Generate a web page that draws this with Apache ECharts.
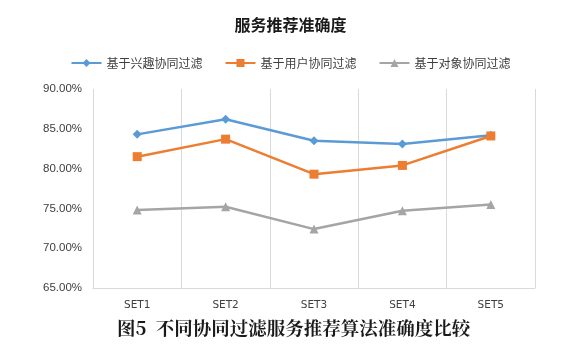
<!DOCTYPE html>
<html><head><meta charset="utf-8">
<script src="https://cdn.jsdelivr.net/npm/echarts@6/dist/echarts.min.js"></script>
<style>html,body{margin:0;padding:0;background:#fff}#c{width:581px;height:360px}</style>
</head><body><div id="c"></div>
<script>
const categories = ['SET1','SET2','SET3','SET4','SET5'];
const seriesNames = ['基于兴趣协同过滤','基于用户协同过滤','基于对象协同过滤'];
const interestCF = [84.3, 86.2, 83.5, 83.1, 84.2];
const userCF = [81.5, 83.7, 79.3, 80.4, 84.1];
const objectCF = [74.8, 75.2, 72.4, 74.7, 75.5];
const yTicks = [65, 70, 75, 80, 85, 90];

const chart = echarts.init(document.getElementById('c'), null, {renderer:'canvas'});
const mk = (name, data, color, symbol, size) => ({
  name, type:'line', data, symbol, symbolSize:size,
  lineStyle:{color, width:2.5}, itemStyle:{color}
});
chart.setOption({
  animation:false,
  title:[
    {text:'服务推荐准确度', left:'center', top:12,
     textStyle:{fontFamily:'Noto Sans CJK SC', fontSize:16, fontWeight:'bold', color:'#1a1a1a'}},
    {text:'图5  不同协同过滤服务推荐算法准确度比较', left:112, top:314,
     textStyle:{fontFamily:'Noto Serif CJK SC, Noto Sans CJK SC', fontSize:18.5, fontWeight:'bold', color:'#1a1a1a'}}
  ],
  legend:{top:52, left:'center', itemGap:22, itemWidth:30, itemHeight:10,
    textStyle:{fontFamily:'Noto Sans CJK SC', fontSize:12, color:'#404040'},
    data:seriesNames},
  grid:{left:93, right:46, top:89, bottom:72},
  xAxis:{type:'category', data:categories, boundaryGap:true,
    axisLine:{lineStyle:{color:'#d9d9d9'}}, axisTick:{show:false},
    splitLine:{show:true, lineStyle:{color:'#d9d9d9'}},
    axisLabel:{color:'#404040', fontSize:10.5, margin:12, fontFamily:'DejaVu Sans'}},
  yAxis:{type:'value', min:yTicks[0], max:yTicks[yTicks.length-1], interval:5,
    axisLine:{show:false}, axisTick:{show:false}, splitLine:{show:false},
    axisLabel:{color:'#404040', fontSize:11.5, margin:11, fontFamily:'Liberation Sans',
      formatter:v=>v.toFixed(2)+'%'}},
  series:[
    mk(seriesNames[0], interestCF, '#5B9BD5', 'diamond', 9),
    mk(seriesNames[1], userCF, '#ED7D31', 'rect', 9),
    mk(seriesNames[2], objectCF, '#A5A5A5', 'triangle', 9)
  ]
});
</script></body></html>
